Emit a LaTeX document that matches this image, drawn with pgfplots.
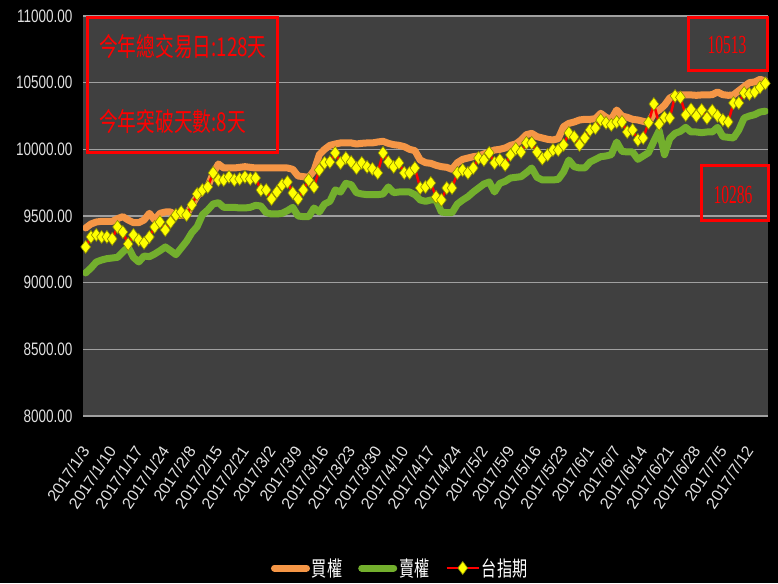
\documentclass[border=0pt]{standalone}
\usepackage{pgfplots}
\pgfplotsset{compat=1.18}
\usepackage{pgfplotstable}
\usepackage{fontspec}
\setmainfont{Liberation Sans}
\newfontfamily\cjk[FakeStretch=0.72]{Noto Sans CJK TC}
\newfontfamily\ylab[FakeStretch=0.75]{Liberation Sans}
\newfontfamily\xlab{Liberation Sans}
\newfontfamily\numf[FakeStretch=0.6]{Liberation Serif}
\definecolor{bgplot}{RGB}{64,64,64}
\definecolor{gridc}{RGB}{160,160,160}
\definecolor{callc}{RGB}{245,150,70}
\definecolor{putc}{RGB}{115,175,45}
\definecolor{futr}{RGB}{255,0,0}
\definecolor{diam}{RGB}{255,255,0}
\definecolor{labc}{RGB}{225,225,225}

\pgfplotstableread{
i buy sell fut
0 9410 9073 9268
1 9440 9110 9343
2 9455 9155 9358
3 9460 9170 9343
4 9460 9180 9343
5 9460 9185 9328
6 9480 9190 9418
7 9495 9230 9380
8 9470 9268 9290
9 9450 9190 9358
10 9450 9155 9320
11 9470 9200 9298
12 9520 9195 9343
13 9470 9215 9418
14 9520 9240 9455
15 9530 9268 9395
16 9530 9240 9455
17 9505 9210 9508
18 9505 9260 9530
19 9510 9310 9508
20 9580 9375 9583
21 9650 9420 9665
22 9690 9510 9695
23 9720 9545 9718
24 9820 9590 9823
25 9890 9600 9770
26 9860 9565 9770
27 9860 9565 9793
28 9860 9565 9770
29 9865 9560 9778
30 9870 9560 9793
31 9865 9565 9778
32 9860 9580 9785
33 9860 9575 9695
34 9860 9525 9695
35 9860 9515 9628
36 9860 9515 9680
37 9860 9520 9733
38 9860 9540 9755
39 9850 9565 9673
40 9800 9500 9628
41 9795 9495 9695
42 9790 9495 9770
43 9840 9560 9718
44 9960 9530 9845
45 10000 9590 9898
46 10030 9610 9905
47 10040 9695 9973
48 10048 9680 9898
49 10048 9745 9935
50 10048 9735 9905
51 10040 9675 9860
52 10045 9665 9898
53 10048 9660 9868
54 10048 9660 9853
55 10055 9660 9823
56 10060 9665 9973
57 10045 9718 9905
58 10035 9675 9868
59 10030 9680 9898
60 10020 9680 9823
61 10000 9680 9823
62 9990 9660 9860
63 9920 9620 9710
64 9900 9610 9718
65 9895 9620 9748
66 9880 9620 9643
67 9870 9530 9620
68 9865 9525 9710
69 9850 9525 9710
70 9900 9590 9823
71 9925 9620 9845
72 9935 9645 9823
73 9945 9680 9860
74 9950 9710 9935
75 9965 9740 9920
76 9980 9755 9973
77 9995 9680 9898
78 10000 9745 9920
79 10010 9760 9883
80 10030 9785 9958
81 10040 9790 10003
82 10070 9795 9980
83 10110 9825 10048
84 10120 9860 10048
85 10095 9790 9980
86 10085 9770 9930
87 10075 9770 9958
88 10070 9770 9995
89 10080 9775 9995
90 10170 9830 10033
91 10195 9920 10123
92 10205 9870 10093
93 10220 9860 10033
94 10225 9860 10085
95 10225 9905 10145
96 10230 9925 10160
97 10270 9945 10220
98 10240 9950 10198
99 10225 9960 10183
100 10295 10055 10205
101 10250 9985 10205
102 10240 9980 10130
103 10225 9980 10145
104 10220 9925 10070
105 10210 9950 10085
106 10200 9975 10200
107 10270 10060 10340
108 10295 10140 10190
109 10330 9960 10240
110 10385 10080 10235
111 10405 10120 10400
112 10408 10135 10390
113 10408 10165 10258
114 10408 10130 10300
115 10405 10130 10250
116 10408 10125 10295
117 10408 10130 10235
118 10410 10130 10290
119 10430 10165 10250
120 10410 10095 10220
121 10405 10090 10205
122 10408 10085 10348
123 10440 10145 10348
124 10470 10235 10423
125 10500 10250 10415
126 10505 10260 10430
127 10525 10280 10465
128 10513 10286 10495
}\datatable

\begin{document}
\begin{tikzpicture}
\fill[black] (0pt,0pt) rectangle (778pt,583pt);
\begin{axis}[
  at={(83pt,167pt)}, anchor=south west,
  width=685pt, height=400pt, scale only axis,
  xmin=-0.5, xmax=128.5, ymin=8000, ymax=11000,
  scaled y ticks=false, scaled x ticks=false,
  axis background/.style={fill=bgplot},
  axis x line=bottom, axis y line=left,
  x axis line style={draw=gridc, line width=2pt, -},
  y axis line style={draw=none},
  major tick length=0pt,
  ytick={8000,8500,9000,9500,10000,10500,11000},
  yticklabels={8000.00,8500.00,9000.00,9500.00,10000.00,10500.00,11000.00},
  ymajorgrids, grid style={draw=gridc, line width=1.5pt},
  xtick={0,5,...,125},
  xticklabels={2017/1/3,2017/1/10,2017/1/17,2017/1/24,2017/2/8,2017/2/15,2017/2/21,2017/3/2,2017/3/9,2017/3/16,2017/3/23,2017/3/30,2017/4/10,2017/4/17,2017/4/24,2017/5/2,2017/5/9,2017/5/16,2017/5/23,2017/6/1,2017/6/7,2017/6/14,2017/6/21,2017/6/28,2017/7/5,2017/7/12},
  yticklabel style={font=\ylab\fontsize{18pt}{18pt}\selectfont, text=labc, xshift=-7pt},
  xticklabel style={font=\xlab\fontsize{16pt}{16pt}\selectfont, text=labc, yshift=-29pt, xshift=2pt, rotate=56, anchor=east},
  legend style={at={(0.463,-0.38)}, anchor=center, draw=none, fill=none, text=white,
    font=\cjk\fontsize{21pt}{21pt}\selectfont, legend columns=3,
    /tikz/every even column/.append style={column sep=14pt}},
  legend image code/.code={\draw[mark repeat=2,mark phase=2,#1] plot coordinates {(0pt,0pt) (16pt,0pt) (32pt,0pt)};},
]
\addplot[callc, line width=7pt, line cap=round, line join=round] table[x=i, y=buy] {\datatable};
\addlegendentry{買權}
\addplot[putc, line width=7pt, line cap=round, line join=round] table[x=i, y=sell] {\datatable};
\addlegendentry{賣權}
\addplot[futr, line width=2.5pt, mark=diamond*, mark size=6.5pt,
  mark options={fill=diam, draw=diam!55!black, line width=0.6pt, solid}] table[x=i, y=fut] {\datatable};
\addlegendentry{台指期}
\end{axis}
\draw[red, line width=3pt] (87pt,430pt) rectangle (277pt,565pt);
\node[anchor=west, text=red, inner sep=0pt] at (99pt,536pt) {\cjk\fontsize{26pt}{26pt}\selectfont 今年總交易日:128天};
\node[anchor=west, text=red, inner sep=0pt] at (99pt,461pt) {\cjk\fontsize{26pt}{26pt}\selectfont 今年突破天數:8天};
\draw[red, line width=3pt] (688pt,512pt) rectangle (767pt,565pt);
\node[text=red, inner sep=0pt] at (727pt,538pt) {\numf\fontsize{26pt}{26pt}\selectfont 10513};
\draw[red, line width=3pt] (701pt,362pt) rectangle (768pt,417pt);
\node[text=red, inner sep=0pt] at (733pt,388pt) {\numf\fontsize{26pt}{26pt}\selectfont 10286};
\end{tikzpicture}
\end{document}
